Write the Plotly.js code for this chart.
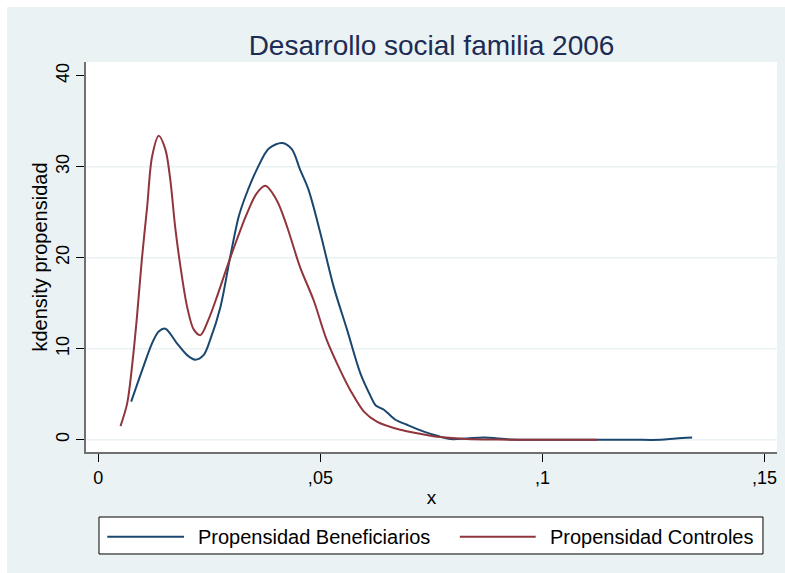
<!DOCTYPE html>
<html>
<head>
<meta charset="utf-8">
<script src="https://cdn.plot.ly/plotly-3.0.1.min.js"></script>
<style>
  html, body { margin: 0; padding: 0; background: #ffffff; }
  #chart { position: absolute; left: 7px; top: 7px; width: 778px; height: 566px; }
</style>
</head>
<body>
<div id="chart"></div>
<script>
// ---- Data ----
const chartTitle = "Desarrollo social familia 2006";
const xAxisTitle = "x";
const yAxisTitle = "kdensity propensidad";
const seriesNames = ["Propensidad Beneficiarios", "Propensidad Controles"];

const xTickVals = [0, 0.05, 0.1, 0.15];
const xTickText = ["0", ",05", ",1", ",15"];
const yTickVals = [0, 10, 20, 30, 40];
const yTickText = ["0", "10", "20", "30", "40"];
const yGridVals = [0, 10, 20, 30];

const benefX = [0.0074, 0.0102, 0.0121, 0.0136, 0.0151, 0.0177, 0.0200, 0.0218, 0.0237, 0.0252,
                0.0275, 0.0297, 0.0316, 0.0331, 0.0357, 0.0384, 0.0414, 0.0436, 0.0454, 0.0473,
                0.0500, 0.0530, 0.0560, 0.0590, 0.0613, 0.0624, 0.0643, 0.0669, 0.0695, 0.0733,
                0.0763, 0.0793, 0.0830, 0.0868, 0.0930, 0.1000, 0.1100, 0.1200, 0.1266, 0.1300, 0.1337];
const benefY = [4.2, 8.1, 10.6, 11.9, 12.2, 10.6, 9.3, 8.8, 9.3, 11.0,
                14.6, 20.1, 24.5, 26.7, 29.7, 32.0, 32.6, 31.9, 29.7, 27.5,
                22.7, 16.8, 12.1, 7.3, 4.8, 3.8, 3.3, 2.2, 1.65, 0.9,
                0.44, 0.08, 0.15, 0.25, 0.02, 0.0, 0.0, 0.0, 0.0, 0.15, 0.25];

const ctrlX = [0.0050, 0.0065, 0.0076, 0.0087, 0.0098, 0.0110, 0.0121, 0.0136, 0.0151, 0.0162,
               0.0173, 0.0185, 0.0200, 0.0215, 0.0230, 0.0248, 0.0267, 0.0290, 0.0312, 0.0335,
               0.0357, 0.0376, 0.0402, 0.0425, 0.0454, 0.0485, 0.0514, 0.0545, 0.0568, 0.0598,
               0.0627, 0.0680, 0.0718, 0.0770, 0.0830, 0.0900, 0.1000, 0.1123];
const ctrlY = [1.5, 4.0, 8.1, 13.5, 19.8, 25.6, 31.1, 33.4, 31.9, 28.6,
               23.4, 19.0, 14.6, 12.1, 11.5, 13.2, 15.7, 19.0, 22.0, 24.9,
               27.1, 27.9, 26.3, 23.4, 19.0, 15.3, 11.0, 7.6, 5.4, 3.1,
               2.0, 1.1, 0.73, 0.3, 0.08, 0.02, 0.0, 0.0];

// ---- Styling ----
const BG = "#EAF2F3";
const BLUE = "#1A476F";
const RED = "#90353B";
const FONT = "'Liberation Sans', Arial, Helvetica, sans-serif";

const traces = [
  { x: benefX, y: benefY, type: "scatter", mode: "lines", name: seriesNames[0],
    line: { color: BLUE, width: 2, shape: "spline", smoothing: 0.9 }, showlegend: false },
  { x: ctrlX, y: ctrlY, type: "scatter", mode: "lines", name: seriesNames[1],
    line: { color: RED, width: 2, shape: "spline", smoothing: 0.9 }, showlegend: false }
];

// horizontal grid lines (none at the top tick, as in the reference)
const gridShapes = yGridVals.map(v => ({
  type: "line", xref: "paper", yref: "y", x0: 0, x1: 1, y0: v, y1: v,
  line: { color: BG, width: 1.5 }, layer: "below"
}));

// legend drawn as a framed box under the plot (paper coordinates)
const lgY0 = -0.1667, lgY1 = -0.2615, lgMid = -0.2172;
const shapes = gridShapes.concat([
  { type: "rect", xref: "paper", yref: "paper", x0: 0.0188, x1: 0.9797, y0: lgY0, y1: lgY1,
    line: { color: "#000000", width: 1 }, fillcolor: "#ffffff", layer: "above" },
  { type: "line", xref: "paper", yref: "paper", x0: 0.0308, x1: 0.1418, y0: lgMid, y1: lgMid,
    line: { color: BLUE, width: 2 } },
  { type: "line", xref: "paper", yref: "paper", x0: 0.5410, x1: 0.6508, y0: lgMid, y1: lgMid,
    line: { color: RED, width: 2 } }
]);
const annotations = [
  { xref: "paper", yref: "paper", x: 0.1592, y: lgMid, xanchor: "left", yanchor: "middle",
    text: seriesNames[0], showarrow: false, font: { family: FONT, size: 20, color: "#000000" } },
  { xref: "paper", yref: "paper", x: 0.6686, y: lgMid, xanchor: "left", yanchor: "middle",
    text: seriesNames[1], showarrow: false, font: { family: FONT, size: 20, color: "#000000" } }
];

const layout = {
  width: 778, height: 566,
  paper_bgcolor: BG, plot_bgcolor: "#ffffff",
  font: { family: FONT, size: 18, color: "#000000" },
  margin: { l: 79, r: 8, t: 55, b: 121 },
  showlegend: false,
  title: { text: chartTitle, x: 0.5, xref: "paper", xanchor: "center",
           y: 0.9329, yref: "container", yanchor: "middle",
           font: { family: FONT, size: 28, color: "#1C2C54" } },
  xaxis: {
    range: [-0.00277, 0.1528], tickmode: "array", tickvals: xTickVals, ticktext: xTickText,
    ticks: "outside", ticklen: 8, tickwidth: 1, tickcolor: "#000000",
    showline: true, linecolor: "#707070", linewidth: 2, mirror: false,
    showgrid: false, zeroline: false,
    tickfont: { family: FONT, size: 18, color: "#000000" },
    title: { text: xAxisTitle, standoff: 4, font: { family: FONT, size: 19, color: "#000000" } }
  },
  yaxis: {
    range: [-1.34, 41.5], tickmode: "array", tickvals: yTickVals, ticktext: yTickText,
    tickangle: -90,
    ticks: "outside", ticklen: 8, tickwidth: 1, tickcolor: "#000000",
    showline: true, linecolor: "#707070", linewidth: 2, mirror: false,
    showgrid: false, zeroline: false,
    tickfont: { family: FONT, size: 18, color: "#000000" },
    title: { text: yAxisTitle, standoff: 0, font: { family: FONT, size: 20, color: "#000000" } }
  },
  shapes: shapes,
  annotations: annotations
};

Plotly.newPlot("chart", traces, layout, { displayModeBar: false, staticPlot: true });
</script>
</body>
</html>
